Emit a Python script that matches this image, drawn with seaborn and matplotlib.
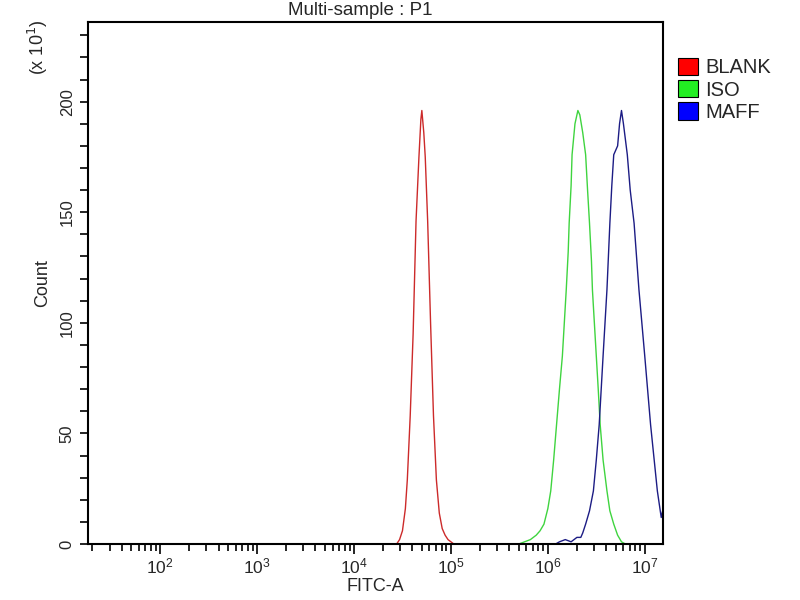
import numpy as np
import pandas as pd
import matplotlib
matplotlib.use('Agg')
import matplotlib.pyplot as plt
import matplotlib.ticker as mticker
from matplotlib.patches import Patch
import seaborn as sns

# channel positions (log10 of FITC-A) and counts
blank_log = [4.44, 4.47, 4.50, 4.53, 4.55, 4.58, 4.61, 4.64, 4.67, 4.69, 4.70, 4.72,
             4.735, 4.76, 4.79, 4.82, 4.85, 4.88, 4.91, 4.94, 4.97, 5.00, 5.03]
blank_count = [0, 2, 6, 16, 29, 58, 95, 146, 175, 192, 196, 186,
               175, 146, 100, 58, 29, 14, 7, 4, 2, 1, 0]

iso_log = [5.70, 5.76, 5.82, 5.88, 5.92, 5.96, 6.00, 6.03, 6.06, 6.09, 6.12, 6.15,
           6.17, 6.19, 6.21, 6.22, 6.24, 6.25, 6.28, 6.31, 6.33, 6.36, 6.39, 6.41,
           6.43, 6.45, 6.46, 6.48, 6.50, 6.52, 6.54, 6.57, 6.61, 6.64, 6.68, 6.72,
           6.76, 6.80]
iso_count = [0, 1, 2, 4, 6, 9, 16, 24, 38, 54, 70, 85,
             100, 115, 132, 145, 162, 176, 190, 196, 194, 186, 176, 160,
             145, 128, 115, 100, 85, 70, 54, 38, 24, 15, 9, 4,
             1, 0]

maff_log = [6.08, 6.12, 6.18, 6.24, 6.30, 6.34, 6.36, 6.39, 6.43, 6.47, 6.50, 6.53,
            6.57, 6.61, 6.64, 6.66, 6.68, 6.70, 6.72, 6.74, 6.76, 6.78, 6.82, 6.85,
            6.89, 6.94, 7.00, 7.06, 7.13, 7.17, 7.19]
maff_count = [0, 1, 2, 1, 3, 3, 5, 9, 15, 24, 38, 54,
              85, 115, 145, 162, 176, 178, 180, 190, 196, 190, 176, 160,
              145, 115, 85, 54, 24, 12, 16]

samples = ['BLANK', 'ISO', 'MAFF']
line_colors = ['#cc2a2a', '#3fd43f', '#1c1c84']
legend_colors = ['#ff0000', '#22ee22', '#0000ff']

frames = []
for name, lg, cnt in zip(samples, [blank_log, iso_log, maff_log],
                         [blank_count, iso_count, maff_count]):
    frames.append(pd.DataFrame({'fitc': np.power(10.0, lg), 'count': cnt, 'sample': name}))
df = pd.concat(frames, ignore_index=True)

sns.set_style('white')
plt.rcParams['font.family'] = ['Liberation Sans', 'DejaVu Sans']

fig = plt.figure(figsize=(8, 6), dpi=100)
ax = fig.add_axes([0.11, 0.0933, 0.719, 0.87])

sns.lineplot(data=df, x='fitc', y='count', hue='sample', palette=line_colors,
             estimator=None, sort=False, linewidth=1.0, legend=False, ax=ax)

ax.set_xscale('log')
ax.set_xlim(18, 1.55e7)
ax.set_ylim(0, 236)

ax.xaxis.set_major_locator(mticker.FixedLocator([1e2, 1e3, 1e4, 1e5, 1e6, 1e7]))
ax.xaxis.set_major_formatter(mticker.LogFormatterMathtext())
ax.xaxis.set_minor_locator(mticker.LogLocator(base=10, subs=np.arange(2, 10), numticks=20))
ax.xaxis.set_minor_formatter(mticker.NullFormatter())

ax.yaxis.set_major_locator(mticker.MultipleLocator(50))
ax.yaxis.set_minor_locator(mticker.MultipleLocator(10))

ax.tick_params(axis='both', which='both', direction='out', color='black',
               width=1.2, labelsize=12, bottom=True, left=True)
ax.tick_params(axis='x', which='major', length=7, pad=2, labelsize=12.5)
ax.tick_params(axis='x', which='minor', length=5)
ax.tick_params(axis='y', which='both', length=6)
for lbl in ax.get_yticklabels():
    lbl.set_rotation(90)
    lbl.set_va('center')

for sp in ax.spines.values():
    sp.set_color('black')
    sp.set_linewidth(1.5)

ax.set_xlabel('FITC-A', fontsize=13, labelpad=1)
ax.set_ylabel('Count', fontsize=13, labelpad=6)

fig.text(0.45, 0.982, 'Multi-sample : P1', ha='center', va='center', fontsize=13.5)
fig.text(0.048, 0.922, r'(x 10$^{1}$)', rotation=90, ha='center', va='center', fontsize=13)

handles = [Patch(facecolor=c, edgecolor='black', linewidth=0.8) for c in legend_colors]
fig.legend(handles, samples, loc='upper left', bbox_to_anchor=(0.8475, 0.904),
           frameon=False, fontsize=14.5, handlelength=1.0, handleheight=0.95,
           handletextpad=0.35, labelspacing=0.14, borderaxespad=0, borderpad=0)

fig.savefig('out.png', dpi=100)
